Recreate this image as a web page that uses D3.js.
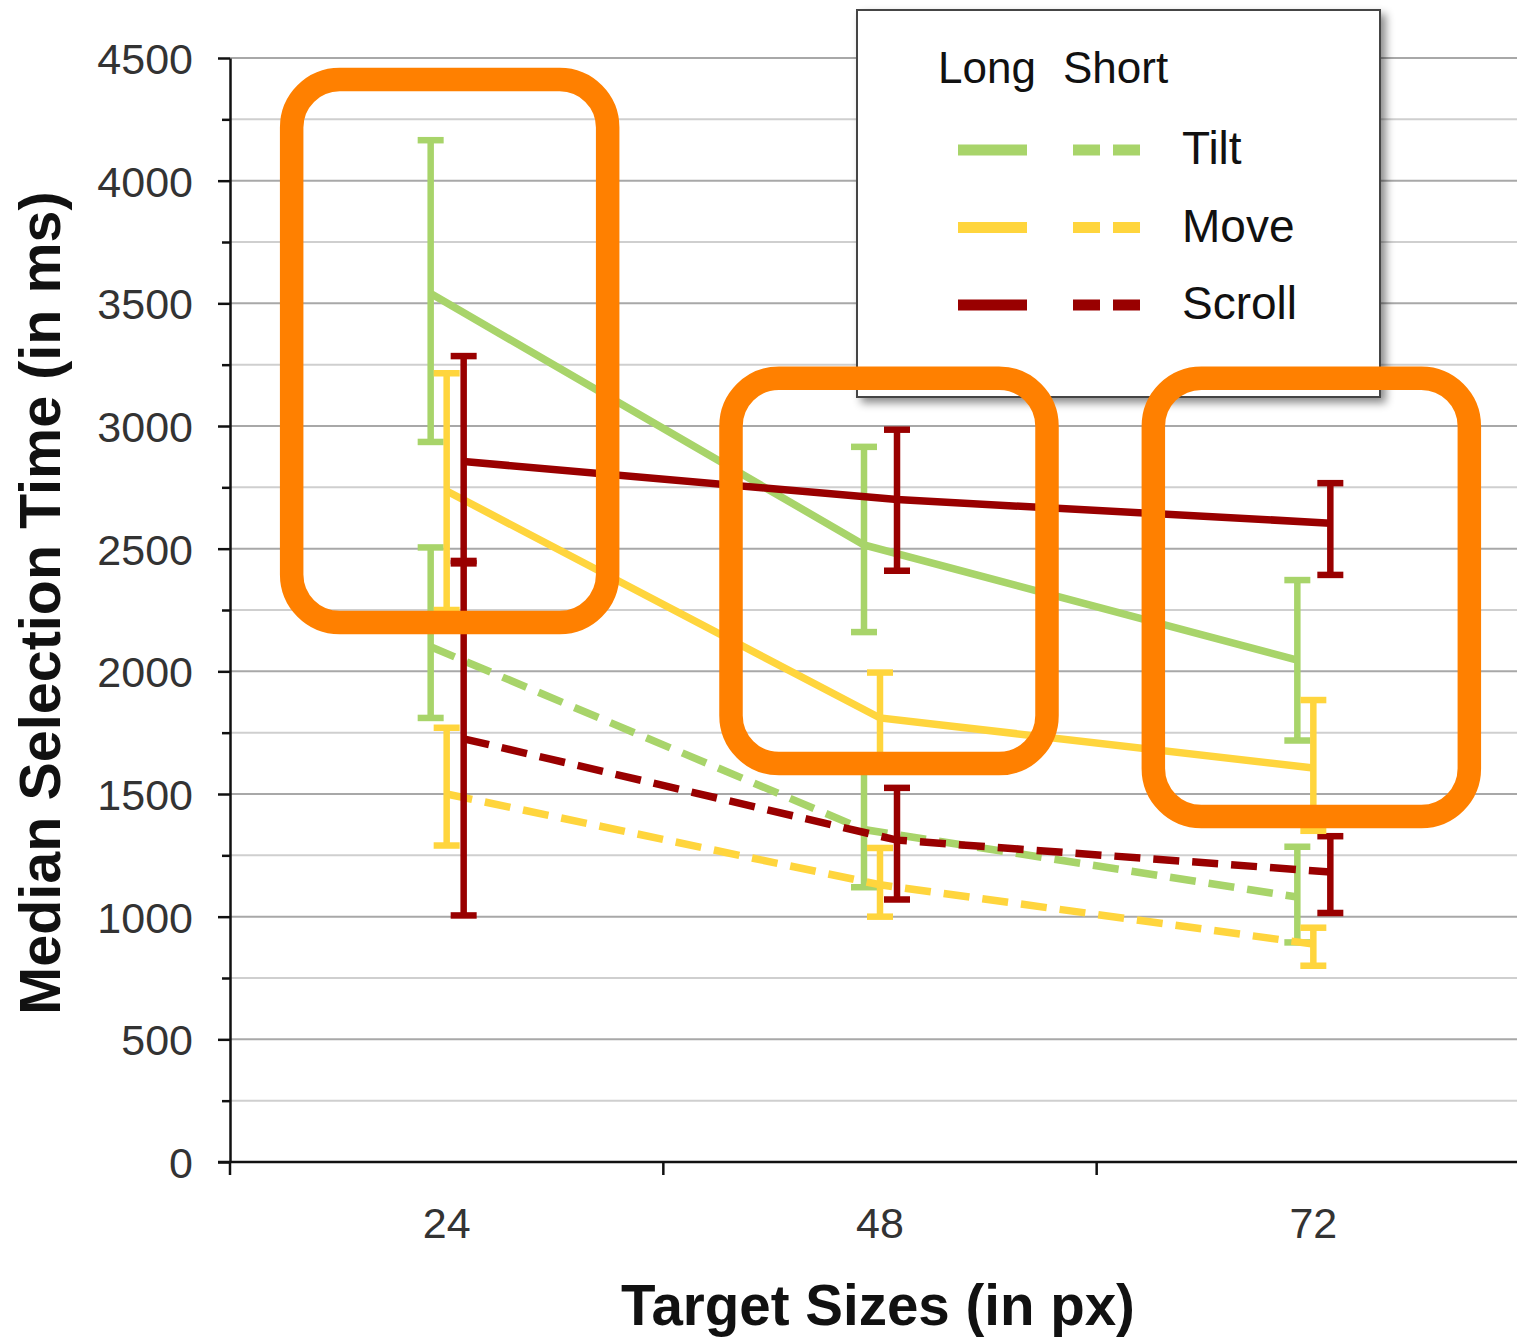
<!DOCTYPE html>
<html>
<head>
<meta charset="utf-8">
<script src="https://cdn.jsdelivr.net/npm/d3@7"></script>
<style>
    html, body { margin: 0; padding: 0; background: #fff; }
    svg { display: block; font-family: "Liberation Sans", Arial, sans-serif; }
</style>
</head>
<body>
<div id="chart"></div>
<script>
// target sizes (x categories) and techniques
const sizes = ["24", "48", "72"];
const techniques = ["Tilt", "Move", "Scroll"];
const lengths = ["Long", "Short"];

// median selection time (ms), error ranges [low, high]
const tiltLong = [3540, 2515, 2046];
const tiltLongErr = [[2935, 4165], [2160, 2915], [1718, 2372]];
const tiltShort = [2100, 1355, 1080];
const tiltShortErr = [[1810, 2505], [1120, 1620], [895, 1285]];
const moveLong = [2735, 1810, 1606];
const moveLongErr = [[2250, 3215], [1630, 1995], [1350, 1883]];
const moveShort = [1500, 1130, 888];
const moveShortErr = [[1290, 1770], [1000, 1280], [800, 955]];
const scrollLong = [2855, 2700, 2604];
const scrollLongErr = [[2440, 3285], [2410, 2985], [2393, 2767]];
const scrollShort = [1725, 1312, 1182];
const scrollShortErr = [[1005, 2450], [1070, 1525], [1015, 1328]];

// highlighted regions (annotation boxes), in data units
const highlightSizes = ["24", "48", "72"];
const highlightTop = [4412, 3195, 3195];
const highlightBottom = [2199, 1624, 1408];

const WIDTH = 1517;
const HEIGHT = 1337;
const COLORS = { Tilt: "#a8d46a", Move: "#ffd53d", Scroll: "#990000" };
const OFFSETS = { Tilt: -16, Move: 0, Scroll: 17 };

const series = [
    { tech: "Tilt", len: "Short", values: tiltShort, err: tiltShortErr },
    { tech: "Move", len: "Short", values: moveShort, err: moveShortErr },
    { tech: "Scroll", len: "Short", values: scrollShort, err: scrollShortErr },
    { tech: "Tilt", len: "Long", values: tiltLong, err: tiltLongErr },
    { tech: "Move", len: "Long", values: moveLong, err: moveLongErr },
    { tech: "Scroll", len: "Long", values: scrollLong, err: scrollLongErr }
];

const svg = d3.select("#chart").append("svg")
    .attr("width", WIDTH)
    .attr("height", HEIGHT);

const defs = svg.append("defs");
defs.append("filter")
    .attr("id", "shadow")
    .attr("x", "-10%").attr("y", "-10%")
    .attr("width", "130%").attr("height", "130%")
    .append("feDropShadow")
    .attr("dx", 5).attr("dy", 5)
    .attr("stdDeviation", 4)
    .attr("flood-color", "#000")
    .attr("flood-opacity", 0.45);

const x = d3.scaleBand().domain(sizes).range([230, 1530]);
const y = d3.scaleLinear().domain([0, 4500]).range([1162, 58]);
const cx = (s, tech) => x(s) + x.bandwidth() / 2 + OFFSETS[tech];

// gridlines
svg.append("g")
    .selectAll("line")
    .data(d3.range(250, 4501, 250))
    .enter()
    .append("line")
    .attr("x1", 230)
    .attr("x2", WIDTH)
    .attr("y1", d => y(d))
    .attr("y2", d => y(d))
    .attr("stroke", d => d % 500 === 0 ? "#a8a8a8" : "#cfcfcf")
    .attr("stroke-width", 2);

// y axis
const yAxis = svg.append("g")
    .attr("transform", "translate(230,0)")
    .call(d3.axisLeft(y)
        .tickValues(d3.range(0, 4501, 500))
        .tickFormat(d3.format("d"))
        .tickSize(12)
        .tickSizeOuter(0)
        .tickPadding(25));
yAxis.select(".domain").attr("stroke", "#111").attr("stroke-width", 2.5);
yAxis.selectAll(".tick line").attr("stroke", "#111").attr("stroke-width", 2.5);
yAxis.selectAll(".tick text")
    .attr("font-size", 43)
    .attr("font-family", "Liberation Sans, Arial, sans-serif")
    .attr("fill", "#333")
    .attr("dy", "0.36em");

svg.append("g")
    .attr("transform", "translate(230,0)")
    .call(d3.axisLeft(y)
        .tickValues(d3.range(250, 4500, 500))
        .tickSize(8)
        .tickSizeOuter(0)
        .tickFormat(""))
    .call(g => g.select(".domain").remove())
    .selectAll(".tick line").attr("stroke", "#111").attr("stroke-width", 2.5);

// x axis
const xAxis = svg.append("g")
    .attr("transform", `translate(0,${y(0)})`);
xAxis.append("line")
    .attr("x1", 218).attr("x2", WIDTH)
    .attr("stroke", "#111").attr("stroke-width", 2.5);
xAxis.selectAll("line.tick")
    .data(sizes)
    .enter()
    .append("line")
    .attr("class", "tick")
    .attr("x1", d => x(d)).attr("x2", d => x(d))
    .attr("y1", 0).attr("y2", 13)
    .attr("stroke", "#111").attr("stroke-width", 2.5);
xAxis.selectAll("text")
    .data(sizes)
    .enter()
    .append("text")
    .attr("x", d => x(d) + x.bandwidth() / 2)
    .attr("y", 76)
    .attr("text-anchor", "middle")
    .attr("font-size", 43)
    .attr("fill", "#333")
    .text(d => d);

// axis titles
svg.append("text")
    .attr("x", 878)
    .attr("y", 1325)
    .attr("text-anchor", "middle")
    .attr("font-size", 56.5)
    .attr("font-weight", "bold")
    .attr("fill", "#111")
    .text("Target Sizes (in px)");

svg.append("text")
    .attr("transform", "translate(60,603) rotate(-90)")
    .attr("text-anchor", "middle")
    .attr("font-size", 57.5)
    .attr("font-weight", "bold")
    .attr("fill", "#111")
    .text("Median Selection Time (in ms)");

// series lines
const line = d3.line()
    .x(d => d.x)
    .y(d => y(d.v));

const seriesG = svg.append("g")
    .selectAll("g")
    .data(series)
    .enter()
    .append("g");

seriesG.append("path")
    .attr("d", s => line(s.values.map((v, i) => ({ x: cx(sizes[i], s.tech), v: v }))))
    .attr("fill", "none")
    .attr("stroke", s => COLORS[s.tech])
    .attr("stroke-width", 7.5)
    .attr("stroke-dasharray", s => s.len === "Short" ? "26,13" : null);

// error bars
const bars = seriesG.selectAll("g.err")
    .data(s => s.err.map((e, i) => ({ tech: s.tech, size: sizes[i], lo: e[0], hi: e[1] })))
    .enter()
    .append("g")
    .attr("class", "err")
    .attr("stroke", d => COLORS[d.tech])
    .attr("stroke-width", 6.5);

bars.append("line")
    .attr("x1", d => cx(d.size, d.tech)).attr("x2", d => cx(d.size, d.tech))
    .attr("y1", d => y(d.lo)).attr("y2", d => y(d.hi));
bars.append("line")
    .attr("x1", d => cx(d.size, d.tech) - 13).attr("x2", d => cx(d.size, d.tech) + 13)
    .attr("y1", d => y(d.lo)).attr("y2", d => y(d.lo));
bars.append("line")
    .attr("x1", d => cx(d.size, d.tech) - 13).attr("x2", d => cx(d.size, d.tech) + 13)
    .attr("y1", d => y(d.hi)).attr("y2", d => y(d.hi));

// legend
const legend = svg.append("g").attr("transform", "translate(857,10)");
legend.append("rect")
    .attr("width", 523)
    .attr("height", 387)
    .attr("fill", "#fff")
    .attr("stroke", "#444")
    .attr("stroke-width", 2)
    .attr("filter", "url(#shadow)");

legend.selectAll("text.head")
    .data(lengths)
    .enter()
    .append("text")
    .attr("class", "head")
    .attr("x", (d, i) => i === 0 ? 81 : 206)
    .attr("y", 73)
    .attr("font-size", 44)
    .attr("fill", "#111")
    .text(d => d);

const rows = legend.selectAll("g.row")
    .data(techniques)
    .enter()
    .append("g")
    .attr("class", "row")
    .attr("transform", (d, i) => `translate(0,${140 + i * 77.5})`);

rows.append("line")
    .attr("x1", 101).attr("x2", 170)
    .attr("stroke", d => COLORS[d])
    .attr("stroke-width", 11);
rows.append("line")
    .attr("x1", 216).attr("x2", 286)
    .attr("stroke", d => COLORS[d])
    .attr("stroke-width", 11)
    .attr("stroke-dasharray", "27,13");
rows.append("text")
    .attr("x", 325)
    .attr("y", 14)
    .attr("font-size", 46)
    .attr("fill", "#111")
    .text(d => d);

// highlight boxes
svg.append("g")
    .selectAll("rect")
    .data(highlightSizes.map((s, i) => ({ size: s, top: highlightTop[i], bottom: highlightBottom[i], dx: [3, 9, -2][i] })))
    .enter()
    .append("rect")
    .attr("x", d => x(d.size) + x.bandwidth() / 2 + d.dx - 158)
    .attr("y", d => y(d.top))
    .attr("width", 316)
    .attr("height", d => y(d.bottom) - y(d.top))
    .attr("rx", 48)
    .attr("ry", 48)
    .attr("fill", "none")
    .attr("stroke", "#ff8000")
    .attr("stroke-width", 23.5);
</script>
</body>
</html>
